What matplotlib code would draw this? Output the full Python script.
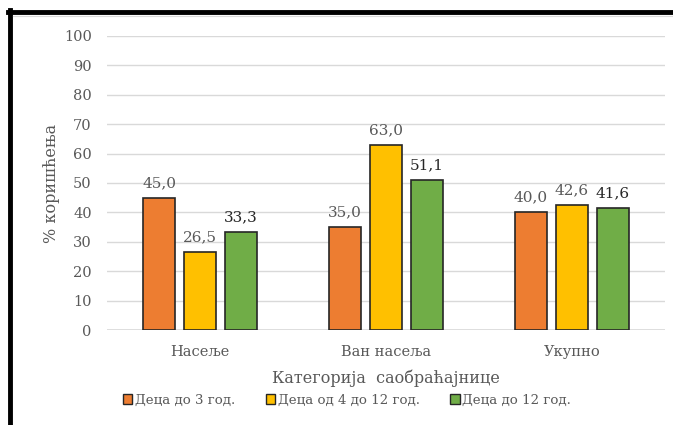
import numpy as np
import matplotlib
matplotlib.use("Agg")
import matplotlib.pyplot as plt
from matplotlib.lines import Line2D
from matplotlib.patches import Patch

# podaci sa grafika
kategorije = ["Насеље", "Ван насеља", "Укупно"]
serije = ["Деца до 3 год.", "Деца од 4 до 12 год.", "Деца до 12 год."]
do3 = [45.0, 35.0, 40.0]
od4do12 = [26.5, 63.0, 42.6]
do12 = [33.3, 51.1, 41.6]
boje = ["#ED7D31", "#FFC000", "#70AD47"]
boje_oznaka = ["#595959", "#595959", "#262626"]

plt.rcParams['font.family'] = ['DejaVu Serif']

fig = plt.figure(figsize=(6.73, 4.25), dpi=100)
ax = fig.add_axes([0.159, 0.2235, 0.829, 0.692])

x = np.arange(len(kategorije))
pomak = 0.22
sirina = 0.175
for i, (vrednosti, boja) in enumerate(zip([do3, od4do12, do12], boje)):
    bars = ax.bar(x + (i - 1) * pomak, vrednosti, sirina, color=boja,
                  edgecolor="#262626", linewidth=1.2, zorder=3, label=serije[i])
    for b, v in zip(bars, vrednosti):
        ax.text(b.get_x() + b.get_width() / 2, v + 2.6, f"{v:.1f}".replace(".", ","),
                ha="center", va="bottom", fontsize=11, color=boje_oznaka[i])

ax.set_xlim(-0.5, 2.5)
ax.set_ylim(0, 100)
ax.set_yticks(range(0, 101, 10))
ax.grid(axis="y", color="#D9D9D9", linewidth=1, zorder=0)
for s in ax.spines.values():
    s.set_visible(False)
ax.axhline(0, color="#D9D9D9", linewidth=1.2, zorder=2)
ax.tick_params(axis="both", length=0, labelsize=10.5, colors="#595959")
ax.tick_params(axis="y", pad=11)
ax.tick_params(axis="x", pad=11)
ax.set_xticks(x)
ax.set_xticklabels(kategorije)
ax.set_xlabel("Категорија  саобраћајнице", fontsize=11.5, color="#595959", labelpad=7)
ax.set_ylabel("% коришћења", fontsize=11.5, color="#595959", labelpad=3)

ruke = [Patch(facecolor=b, edgecolor="#262626", linewidth=1) for b in boje]
fig.legend(ruke, serije, loc="center", bbox_to_anchor=(347 / 673, 1 - 400 / 425),
           ncol=3, frameon=False, fontsize=9.6, handlelength=0.7, handleheight=0.7,
           handletextpad=0.2, columnspacing=2.3, labelcolor="#595959")

# okvir
fig.add_artist(Line2D([10 / 673, 10 / 673], [0, 1 - 10 / 425], color="black", linewidth=3.5,
                      transform=fig.transFigure))
fig.add_artist(Line2D([8 / 673, 1], [1 - 12 / 425, 1 - 12 / 425], color="black", linewidth=3.5,
                      transform=fig.transFigure))
fig.add_artist(Line2D([13 / 673, 1], [1 - 16 / 425, 1 - 16 / 425], color="#D9D9D9", linewidth=0.8,
                      transform=fig.transFigure))

fig.savefig("out.png", dpi=100)
